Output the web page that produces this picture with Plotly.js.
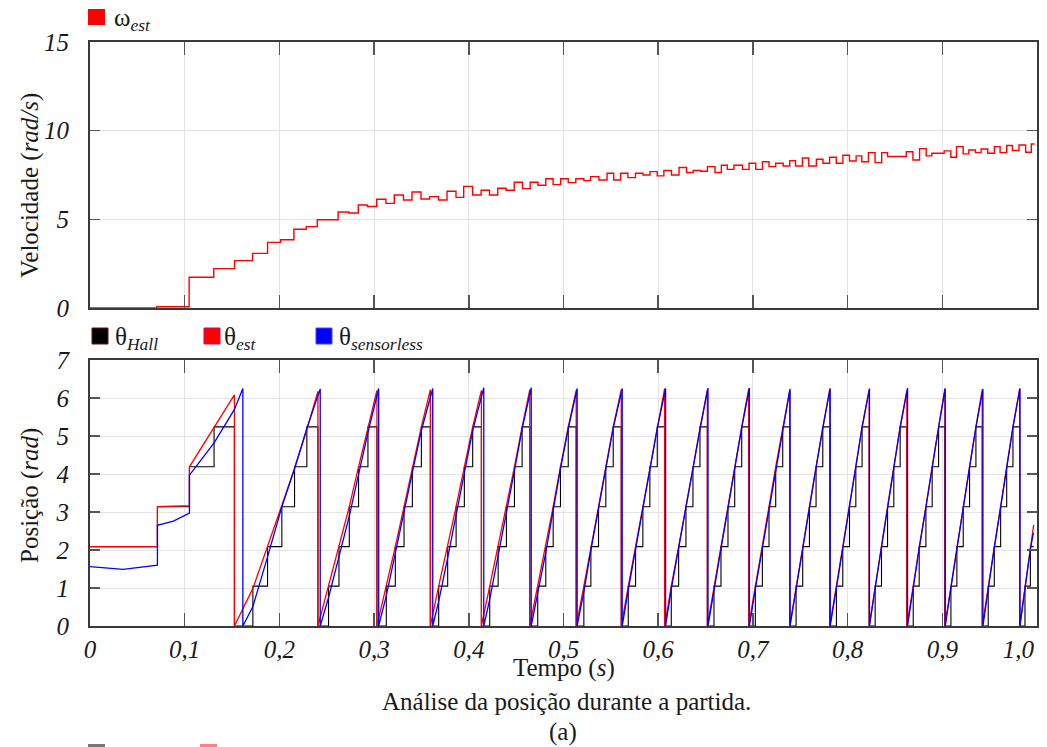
<!DOCTYPE html>
<html><head><meta charset="utf-8">
<script src="https://cdn.plot.ly/plotly-3.0.1.min.js"></script>
<style>html,body{margin:0;padding:0;background:#fff}</style>
</head><body><div id="chart" style="width:1047px;height:747px"></div>
<script>
// ---------- DATA ----------
const xTickVals = [0, 0.1, 0.2, 0.3, 0.4, 0.5, 0.6, 0.7, 0.8, 0.9, 1.0];
const xTickText = ["0", "0,1", "0,2", "0,3", "0,4", "0,5", "0,6", "0,7", "0,8", "0,9", "1,0"];
const velTickVals = [0, 5, 10, 15];
const velTickText = ["0", "5", "10", "15"];
const posTickVals = [0, 1, 2, 3, 4, 5, 6, 7];
const posTickText = ["0", "1", "2", "3", "4", "5", "6", "7"];

// omega_est (rad/s), step signal
const wT = [0, 0.0705, 0.1047, 0.1307, 0.1526, 0.1716, 0.1875, 0.2012, 0.2153, 0.2283, 0.24, 0.262, 0.2734, 0.2833, 0.293,
  0.3027, 0.3125, 0.3213, 0.331, 0.34, 0.3495, 0.3587, 0.368, 0.377, 0.3865, 0.3946, 0.404, 0.413, 0.4218, 0.4306, 0.4394,
  0.448, 0.4567, 0.4648, 0.473, 0.4813, 0.489, 0.497, 0.505, 0.513, 0.5215, 0.5285, 0.5374, 0.546, 0.553, 0.5603, 0.568,
  0.576, 0.584, 0.5913, 0.599, 0.606, 0.614, 0.622, 0.63, 0.637, 0.645, 0.652, 0.66, 0.6667, 0.673, 0.68, 0.689, 0.6959,
  0.703, 0.7101, 0.717, 0.7241, 0.732, 0.7389, 0.745, 0.7523, 0.759, 0.767, 0.774, 0.781, 0.788, 0.795, 0.802, 0.809,
  0.815, 0.822, 0.829, 0.836, 0.8422, 0.862, 0.869, 0.876, 0.883, 0.889, 0.902, 0.909, 0.915, 0.922, 0.928, 0.935, 0.941,
  0.948, 0.955, 0.961, 0.968, 0.974, 0.981, 0.988, 0.994, 0.9975];
const wV = [0, 0.07, 1.73, 2.22, 2.67, 3.08, 3.70, 3.85, 4.44, 4.59, 4.98, 5.41, 5.36, 5.81, 5.72,
  6.13, 5.90, 6.37, 6.09, 6.54, 6.15, 6.28, 6.09, 6.58, 6.24, 6.86, 6.37, 6.64, 6.37, 6.75, 6.64,
  7.09, 6.73, 7.09, 6.92, 7.29, 6.96, 7.29, 7.07, 7.29, 7.18, 7.41, 7.22, 7.60, 7.22, 7.60, 7.35,
  7.60, 7.50, 7.69, 7.45, 7.75, 7.50, 7.92, 7.64, 7.75, 7.71, 7.97, 7.64, 8.05, 7.82, 8.05, 7.82, 8.16,
  7.82, 8.25, 7.97, 8.16, 8.01, 8.31, 8.01, 8.46, 8.01, 8.39, 8.16, 8.50, 8.16, 8.61, 8.29, 8.58,
  8.25, 8.76, 8.20, 8.76, 8.54, 8.81, 8.35, 8.99, 8.58, 8.73, 8.86, 8.50, 9.10, 8.69, 8.91, 8.76, 8.97,
  8.73, 9.10, 8.76, 9.16, 8.88, 9.19, 8.78, 9.25, 9.25];

// theta_Hall (rad), step signal
const hallT = [0, 0.0712, 0.105, 0.131,
  0.1525, 0.172, 0.1875, 0.2026, 0.216, 0.229,
  0.2407, 0.2519, 0.2629, 0.2738, 0.2836, 0.2935,
  0.303, 0.3129, 0.3224, 0.3316, 0.3404, 0.3499,
  0.3594, 0.3682, 0.3777, 0.3866, 0.3953, 0.4041,
  0.4133, 0.4221, 0.431, 0.4397, 0.4482, 0.4563,
  0.4644, 0.4728, 0.4813, 0.4891, 0.4968, 0.505,
  0.5134, 0.5215, 0.5289, 0.537, 0.5447, 0.5525,
  0.561, 0.5684, 0.5761, 0.5838, 0.5912, 0.599,
  0.6068, 0.6138, 0.6216, 0.6293, 0.6367, 0.6441,
  0.6519, 0.6589, 0.6663, 0.6737, 0.6808, 0.6882,
  0.6956, 0.7026, 0.71, 0.717, 0.7241, 0.7315,
  0.7389, 0.7456, 0.7526, 0.7597, 0.7667, 0.7738,
  0.7812, 0.7882, 0.7949, 0.802, 0.8087, 0.8153,
  0.8228, 0.8291, 0.8358, 0.8422, 0.8488, 0.8555,
  0.8626, 0.8693, 0.8756, 0.8827, 0.8893, 0.8961,
  0.9027, 0.9091, 0.9154, 0.9221, 0.9288, 0.9355,
  0.9422, 0.9485, 0.9549, 0.9616, 0.968, 0.9746,
  0.9817, 0.9873, 0.993, 0.9965];
const hallV = [2.09, 3.14, 4.19, 5.24,
  0, 1.05, 2.09, 3.14, 4.19, 5.24,
  0, 1.05, 2.09, 3.14, 4.19, 5.24,
  0, 1.05, 2.09, 3.14, 4.19, 5.24,
  0, 1.05, 2.09, 3.14, 4.19, 5.24,
  0, 1.05, 2.09, 3.14, 4.19, 5.24,
  0, 1.05, 2.09, 3.14, 4.19, 5.24,
  0, 1.05, 2.09, 3.14, 4.19, 5.24,
  0, 1.05, 2.09, 3.14, 4.19, 5.24,
  0, 1.05, 2.09, 3.14, 4.19, 5.24,
  0, 1.05, 2.09, 3.14, 4.19, 5.24,
  0, 1.05, 2.09, 3.14, 4.19, 5.24,
  0, 1.05, 2.09, 3.14, 4.19, 5.24,
  0, 1.05, 2.09, 3.14, 4.19, 5.24,
  0, 1.05, 2.09, 3.14, 4.19, 5.24,
  0, 1.05, 2.09, 3.14, 4.19, 5.24,
  0, 1.05, 2.09, 3.14, 4.19, 5.24,
  0, 1.05, 2.09, 3.14, 4.19, 5.24,
  0, 1.05, 2.09, 2.09];

// theta_est (rad)
const estT = [0, 0.0712, 0.0712, 0.105, 0.105, 0.131, 0.1525, 0.1525,
  0.172, 0.1875, 0.2026, 0.216, 0.229, 0.2407, 0.2407,
  0.2519, 0.2629, 0.2738, 0.2836, 0.2935, 0.303, 0.303,
  0.3129, 0.3224, 0.3316, 0.3404, 0.3499, 0.3594, 0.3594,
  0.3682, 0.3777, 0.3866, 0.3953, 0.4041, 0.4133, 0.4133,
  0.4221, 0.431, 0.4397, 0.4482, 0.4563, 0.4644, 0.4644,
  0.4728, 0.4813, 0.4891, 0.4968, 0.505, 0.5134, 0.5134,
  0.5215, 0.5289, 0.537, 0.5447, 0.5525, 0.561, 0.561,
  0.5684, 0.5761, 0.5838, 0.5912, 0.599, 0.6068, 0.6068,
  0.6138, 0.6216, 0.6293, 0.6367, 0.6441, 0.6519, 0.6519,
  0.6589, 0.6663, 0.6737, 0.6808, 0.6882, 0.6956, 0.6956,
  0.7026, 0.71, 0.717, 0.7241, 0.7315, 0.7389, 0.7389,
  0.7456, 0.7526, 0.7597, 0.7667, 0.7738, 0.7812, 0.7812,
  0.7882, 0.7949, 0.802, 0.8087, 0.8153, 0.8228, 0.8228,
  0.8291, 0.8358, 0.8422, 0.8488, 0.8555, 0.8626, 0.8626,
  0.8693, 0.8756, 0.8827, 0.8893, 0.8961, 0.9027, 0.9027,
  0.9091, 0.9154, 0.9221, 0.9288, 0.9355, 0.9422, 0.9422,
  0.9485, 0.9549, 0.9616, 0.968, 0.9746, 0.9817, 0.9817,
  0.9873, 0.993, 0.9965];
const estV = [2.09, 2.09, 3.14, 3.17, 4.19, 5.24, 6.08, 0,
  0.99, 2.10, 3.18, 4.13, 5.17, 6.18, 0,
  1.05, 2.09, 3.14, 4.19, 5.24, 6.20, 0,
  1.05, 2.09, 3.14, 4.19, 5.24, 6.22, 0,
  1.05, 2.09, 3.14, 4.19, 5.24, 6.20, 0,
  1.05, 2.09, 3.14, 4.19, 5.24, 6.22, 0,
  1.05, 2.09, 3.14, 4.19, 5.24, 6.20, 0,
  1.05, 2.09, 3.14, 4.19, 5.24, 6.22, 0,
  1.05, 2.09, 3.14, 4.19, 5.24, 6.25, 0,
  1.05, 2.09, 3.14, 4.19, 5.24, 6.22, 0,
  1.05, 2.09, 3.14, 4.19, 5.24, 6.25, 0,
  1.05, 2.09, 3.14, 4.19, 5.24, 6.20, 0,
  1.05, 2.09, 3.14, 4.19, 5.24, 6.25, 0,
  1.05, 2.09, 3.14, 4.19, 5.24, 6.22, 0,
  1.05, 2.09, 3.14, 4.19, 5.24, 6.20, 0,
  1.05, 2.09, 3.14, 4.19, 5.24, 6.25, 0,
  1.05, 2.09, 3.14, 4.19, 5.24, 6.22, 0,
  1.05, 2.09, 3.14, 4.19, 5.24, 6.25, 0,
  1.05, 2.09, 2.66];

// theta_sensorless (rad)
const sensT = [0, 0.035, 0.0712, 0.0712, 0.088, 0.105, 0.105, 0.131, 0.1525, 0.1614, 0.1614,
  0.172, 0.1875, 0.2026, 0.216, 0.229, 0.2431, 0.2431,
  0.2519, 0.2629, 0.2738, 0.2836, 0.2935, 0.3048, 0.3048,
  0.3129, 0.3224, 0.3316, 0.3404, 0.3499, 0.3619, 0.3619,
  0.3682, 0.3777, 0.3866, 0.3953, 0.4041, 0.4158, 0.4158,
  0.4221, 0.431, 0.4397, 0.4482, 0.4563, 0.4659, 0.4659,
  0.4728, 0.4813, 0.4891, 0.4968, 0.505, 0.5144, 0.5144,
  0.5215, 0.5289, 0.537, 0.5447, 0.5525, 0.562, 0.562,
  0.5684, 0.5761, 0.5838, 0.5912, 0.599, 0.6078, 0.6078,
  0.6138, 0.6216, 0.6293, 0.6367, 0.6441, 0.6526, 0.6526,
  0.6589, 0.6663, 0.6737, 0.6808, 0.6882, 0.6963, 0.6963,
  0.7026, 0.71, 0.717, 0.7241, 0.7315, 0.7392, 0.7392,
  0.7456, 0.7526, 0.7597, 0.7667, 0.7738, 0.7816, 0.7816,
  0.7882, 0.7949, 0.802, 0.8087, 0.8153, 0.8231, 0.8231,
  0.8291, 0.8358, 0.8422, 0.8488, 0.8555, 0.8633, 0.8633,
  0.8693, 0.8756, 0.8827, 0.8893, 0.8961, 0.9031, 0.9031,
  0.9091, 0.9154, 0.9221, 0.9288, 0.9355, 0.9429, 0.9429,
  0.9485, 0.9549, 0.9616, 0.968, 0.9746, 0.982, 0.982,
  0.9873, 0.993, 0.9962];
const sensV = [1.56, 1.49, 1.60, 2.65, 2.76, 2.97, 3.97, 4.82, 5.70, 6.25, 0,
  0.51, 1.82, 3.14, 4.15, 5.20, 6.24, 0,
  0.75, 1.79, 2.89, 3.99, 5.09, 6.25, 0,
  0.80, 1.89, 2.94, 4.04, 5.14, 6.25, 0,
  0.65, 1.79, 2.89, 4.04, 5.14, 6.27, 0,
  0.70, 1.84, 2.94, 4.09, 5.19, 6.27, 0,
  0.85, 1.94, 3.04, 4.14, 5.19, 6.25, 0,
  0.90, 1.99, 3.06, 4.14, 5.21, 6.25, 0,
  0.95, 2.00, 3.08, 4.14, 5.20, 6.25, 0,
  0.97, 2.02, 3.10, 4.15, 5.20, 6.26, 0,
  0.98, 2.03, 3.10, 4.15, 5.22, 6.26, 0,
  0.98, 2.04, 3.10, 4.16, 5.22, 6.24, 0,
  1.00, 2.05, 3.11, 4.17, 5.22, 6.25, 0,
  1.00, 2.05, 3.11, 4.17, 5.23, 6.25, 0,
  1.00, 2.06, 3.12, 4.17, 5.23, 6.26, 0,
  1.00, 2.06, 3.12, 4.18, 5.23, 6.25, 0,
  1.01, 2.06, 3.12, 4.18, 5.23, 6.24, 0,
  1.01, 2.07, 3.12, 4.18, 5.23, 6.25, 0,
  0.98, 2.02, 2.45];

// ---------- LAYOUT ----------
// plot area: x 90..1037 px, y 42..626 px
const PL = 90, PR = 1037, PT = 42, PB = 626;
const fx = p => (p - PL) / (PR - PL);
const fy = p => (PB - p) / (PB - PT);
const NB = '\u00A0';

const xTickTextShown = xTickText.map((t, i) => i === xTickText.length - 1 ? t + NB.repeat(6) : t);

function axisStyle(extra) {
  return Object.assign({
    showline: true, linecolor: '#3a3a3a', linewidth: 2, mirror: 'allticks',
    ticks: 'inside', tickcolor: '#555', tickwidth: 1.5,
    showgrid: true, gridcolor: '#e4e4e4', gridwidth: 1, zeroline: false,
    tickfont: {family: 'Liberation Serif', size: 25, color: '#1a1a1a', style: 'italic'}
  }, extra);
}

const layout = {
  width: 1047, height: 747,
  margin: {l: PL, r: 1047 - PR, t: PT, b: 747 - PB},
  showlegend: false,
  xaxis: axisStyle({
    domain: [0, 1], anchor: 'y2', range: [0, 1],
    tickmode: 'array', tickvals: xTickVals, ticktext: xTickTextShown, ticklen: 13,
    ticklabeloverflow: 'allow'
  }),
  xaxis2: axisStyle({
    domain: [0, 1], anchor: 'y', range: [0, 1], matches: 'x',
    tickmode: 'array', tickvals: xTickVals, ticktext: xTickText, ticklen: 13,
    showticklabels: false
  }),
  yaxis: axisStyle({
    domain: [fy(308), 1], anchor: 'x2', range: [0, 15],
    tickmode: 'array', tickvals: velTickVals, ticktext: velTickText, ticklen: 10,
    ticklabelstandoff: 14
  }),
  yaxis2: axisStyle({
    domain: [0, fy(360)], anchor: 'x', range: [0, 7],
    tickmode: 'array', tickvals: posTickVals, ticktext: posTickText, ticklen: 10,
    ticklabelstandoff: 14
  }),
  shapes: [
    {type: 'rect', xref: 'paper', yref: 'paper', x0: fx(88), x1: fx(105), y0: fy(25), y1: fy(9),
      fillcolor: '#ff0000', line: {width: 0}},
    {type: 'rect', xref: 'paper', yref: 'paper', x0: fx(92), x1: fx(108), y0: fy(344), y1: fy(328),
      fillcolor: '#000000', line: {width: 1, color: '#6b1010'}},
    {type: 'rect', xref: 'paper', yref: 'paper', x0: fx(204), x1: fx(220), y0: fy(344), y1: fy(328),
      fillcolor: '#ff0000', line: {width: 1, color: '#c01060'}},
    {type: 'rect', xref: 'paper', yref: 'paper', x0: fx(316), x1: fx(332), y0: fy(344), y1: fy(328),
      fillcolor: '#0000ff', line: {width: 1, color: '#3050ff'}},
    {type: 'rect', xref: 'paper', yref: 'paper', x0: fx(88), x1: fx(105), y0: fy(750), y1: fy(744),
      fillcolor: '#777777', line: {width: 0}},
    {type: 'rect', xref: 'paper', yref: 'paper', x0: fx(200), x1: fx(217), y0: fy(750), y1: fy(744),
      fillcolor: '#ff8080', line: {width: 0}}
  ],
  annotations: [
    {xref: 'paper', yref: 'paper', x: fx(112), y: fy(19), xanchor: 'left', yanchor: 'middle', showarrow: false,
      text: 'ω<sub><i>est</i></sub>', font: {family: 'Liberation Serif', size: 25, color: '#1a1a1a'}},
    {xref: 'paper', yref: 'paper', x: fx(113), y: fy(338), xanchor: 'left', yanchor: 'middle', showarrow: false,
      text: 'θ<sub><i>Hall</i></sub>', font: {family: 'Liberation Serif', size: 25, color: '#1a1a1a'}},
    {xref: 'paper', yref: 'paper', x: fx(222), y: fy(338), xanchor: 'left', yanchor: 'middle', showarrow: false,
      text: 'θ<sub><i>est</i></sub>', font: {family: 'Liberation Serif', size: 25, color: '#1a1a1a'}},
    {xref: 'paper', yref: 'paper', x: fx(337), y: fy(338), xanchor: 'left', yanchor: 'middle', showarrow: false,
      text: 'θ<sub><i>sensorless</i></sub>', font: {family: 'Liberation Serif', size: 25, color: '#1a1a1a'}},
    {xref: 'paper', yref: 'paper', x: fx(30), y: fy(186), xanchor: 'center', yanchor: 'middle', showarrow: false,
      textangle: -90, text: 'Velocidade (<i>rad/s</i>)', font: {family: 'Liberation Serif', size: 25, color: '#1a1a1a'}},
    {xref: 'paper', yref: 'paper', x: fx(30), y: fy(496), xanchor: 'center', yanchor: 'middle', showarrow: false,
      textangle: -90, text: 'Posição (<i>rad</i>)', font: {family: 'Liberation Serif', size: 25, color: '#1a1a1a'}},
    {xref: 'paper', yref: 'paper', x: fx(564), y: fy(668), xanchor: 'center', yanchor: 'middle', showarrow: false,
      text: 'Tempo (<i>s</i>)', font: {family: 'Liberation Serif', size: 25, color: '#1a1a1a'}},
    {xref: 'paper', yref: 'paper', x: fx(566), y: fy(701), xanchor: 'center', yanchor: 'middle', showarrow: false,
      text: 'Análise da posição durante a partida.', font: {family: 'Liberation Serif', size: 25, color: '#1a1a1a'}},
    {xref: 'paper', yref: 'paper', x: fx(563), y: fy(732), xanchor: 'center', yanchor: 'middle', showarrow: false,
      text: '(a)', font: {family: 'Liberation Serif', size: 25, color: '#1a1a1a'}}
  ]
};

const traces = [
  {x: wT, y: wV, xaxis: 'x2', yaxis: 'y', type: 'scatter', mode: 'lines', name: 'ω_est',
    line: {color: '#ff0000', width: 1.4, shape: 'hv'}},
  {x: hallT, y: hallV, xaxis: 'x', yaxis: 'y2', type: 'scatter', mode: 'lines', name: 'θ_Hall',
    line: {color: '#000000', width: 1.1, shape: 'hv'}},
  {x: estT, y: estV, xaxis: 'x', yaxis: 'y2', type: 'scatter', mode: 'lines', name: 'θ_est',
    line: {color: '#ff0000', width: 1.3}},
  {x: sensT, y: sensV, xaxis: 'x', yaxis: 'y2', type: 'scatter', mode: 'lines', name: 'θ_sensorless',
    line: {color: '#0000ff', width: 1.3}}
];

Plotly.newPlot('chart', traces, layout, {displayModeBar: false, staticPlot: true});
</script></body></html>
